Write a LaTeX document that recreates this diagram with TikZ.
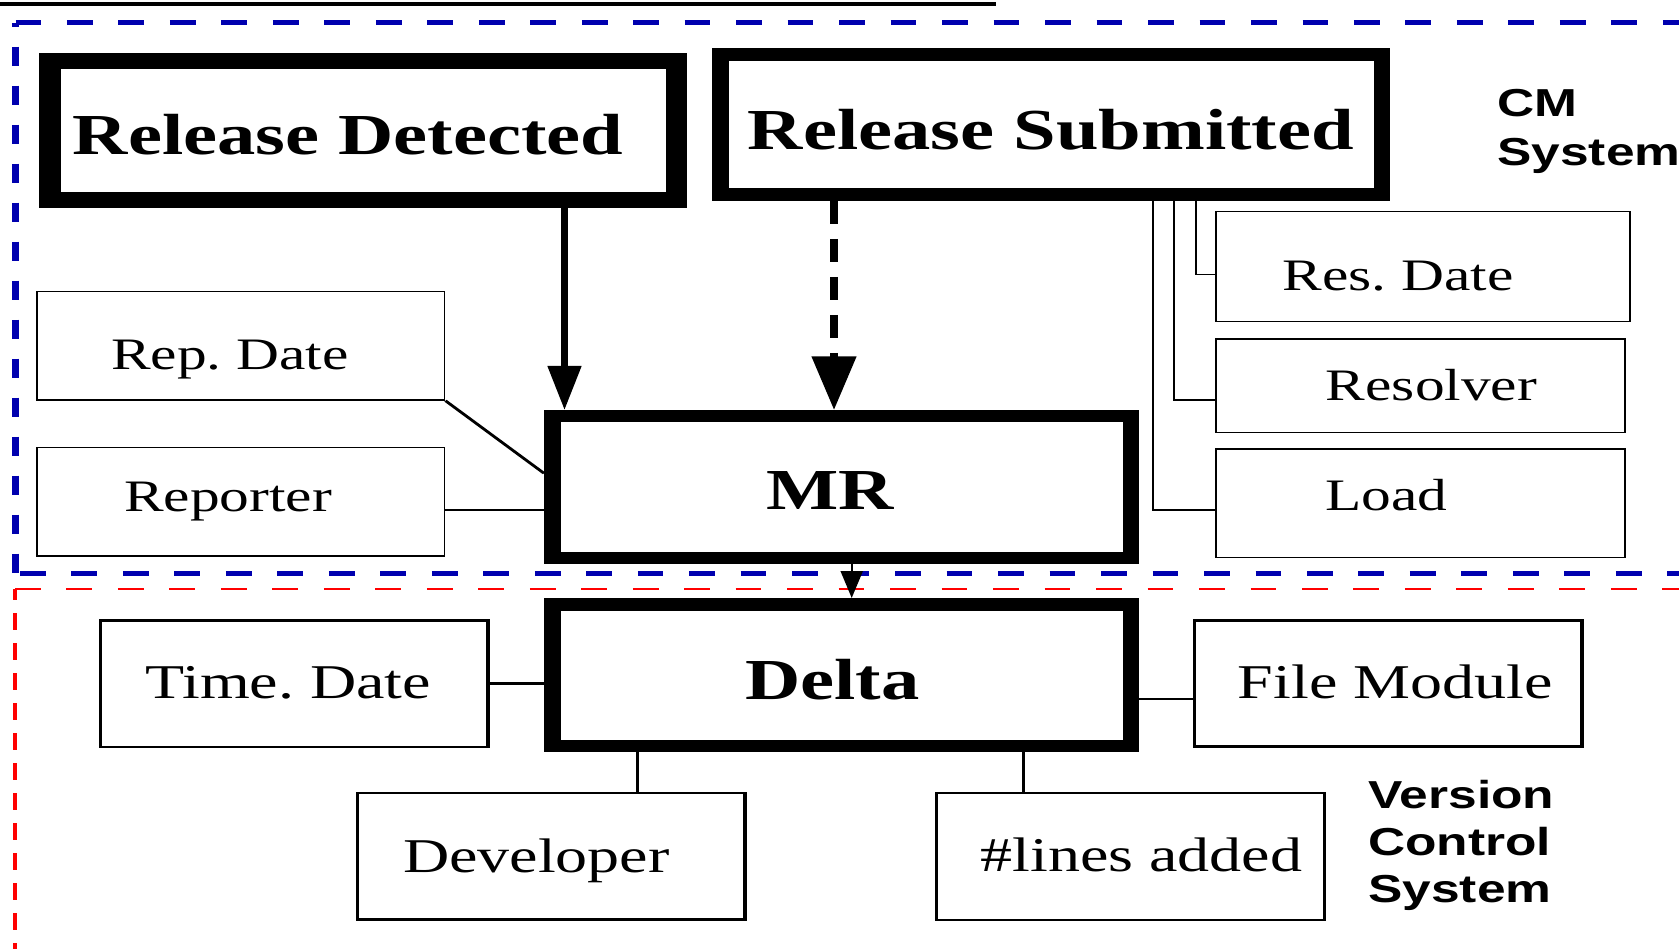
\documentclass[tikz,border=0pt]{standalone}
\usepackage{fontspec}
\setmainfont{Liberation Serif}
\setsansfont{Liberation Sans}
\usetikzlibrary{arrows.meta,fit}
\frenchspacing

% text inside a box: horizontal shift (#1) and baseline height (#2) relative to the box centre
\newcommand\boxlabel[3]{\raisebox{#2pt}[0pt][0pt]{\hspace*{#1pt}#3}}

\definecolor{cmblue}{RGB}{0,0,175}
\definecolor{vcred}{RGB}{255,0,0}

\tikzset{
  frame/.style={draw=black, fill=white, inner sep=0pt},
  heavybox/.style={frame, line width=16pt, font=\fontsize{58}{64}\selectfont\bfseries},
  mainbox/.style={frame, line width=12.5pt, font=\fontsize{58}{64}\selectfont\bfseries},
  attrbox/.style={frame, line width=1.5pt, font=\fontsize{45}{50}\selectfont},
  vcbox/.style={frame, line width=2.5pt, font=\fontsize{48.5}{54}\selectfont},
  tag/.style={inner sep=0pt, anchor=base west, font=\fontsize{39}{44}\selectfont\sffamily\bfseries},
  cmframe/.style={draw=cmblue, line width=5pt, dash pattern=on 19.5pt off 19.5pt},
  vcframe/.style={draw=vcred, line width=2.5pt, dash pattern=on 19.5pt off 19.5pt},
  link/.style={line width=2.5pt},
  thinlink/.style={line width=1.5pt},
  lowlink/.style={line width=2.7pt},
}

\begin{document}
\begin{tikzpicture}[x=1pt,y=-1pt]
\useasboundingbox (0,0) rectangle (1679,949);
\begin{scope}[x=0.757576pt, transform canvas={xscale=1.32}]

% rule and system frames
\draw[line width=4.3pt] (0,4) -- (996,4);
\draw[cmframe] (15.5,23) -- (1720,23);
\draw[cmframe, dash phase=15.3pt] (15.5,23) -- (15.5,573);
\draw[cmframe, dash phase=35.6pt] (15.5,573) -- (1720,573);
\draw[vcframe] (15,589) -- (1720,589);
\draw[vcframe, dash pattern=on 17pt off 13pt, dash phase=6pt] (15,589) -- (15,960);

% CM system
\node[heavybox, fit={(50.05,61) (676.45,200)}] (rd) {\boxlabel{-23.1}{-24.5}{Release Detected}};
\node[mainbox, fit={(720.25,54.55) (1381.75,194.75)}] (rs) {\boxlabel{0}{-24.4}{Release Submitted}};
\node[mainbox, fit={(552.25,416.25) (1130.75,557.75)}] (mr) {\boxlabel{-17.4}{-22.5}{MR}};
\node[attrbox, fit={(37,291.5) (444.5,400)}] (repdate) {\boxlabel{-16.3}{-23.75}{Rep. Date}};
\node[attrbox, fit={(37,447.7) (444.5,556)}] (reporter) {\boxlabel{-19.3}{-9.15}{Reporter}};
\node[attrbox, fit={(1216,211.7) (1630,321.7)}] (resdate) {\boxlabel{-37.9}{-23.8}{Res. Date}};
\node[attrbox, fit={(1216,339) (1625,432.7)}] (resolver) {\boxlabel{16.7}{-14.6}{Resolver}};
\node[attrbox, fit={(1216,449) (1625,557.5)}] (load) {\boxlabel{-51.5}{-7.25}{Load}};
\node[tag] (cmA) at (1497,117) {CM};
\node[tag] (cmB) at (1497,166) {System};

% version control system
\node[mainbox, fit={(552.25,604.25) (1130.75,745.75)}] (delta) {\boxlabel{-14.1}{-24}{Delta}};
\node[vcbox, fit={(100.5,620.3) (488,747)}] (timedate) {\boxlabel{-9.1}{-14.65}{Time. Date}};
\node[vcbox, fit={(357.6,793) (745,919.7)}] (developer) {\boxlabel{-22.7}{-15.65}{Developer}};
\node[vcbox, fit={(1194.6,620.3) (1582,746.7)}] (filemodule) {\boxlabel{10.6}{-14.8}{File Module}};
\node[vcbox, fit={(936.3,793) (1324.2,920)}] (lines) {\boxlabel{17}{-15.2}{\#lines added}};
\node[tag] (vcA) at (1368,808) {Version};
\node[tag] (vcB) at (1368,855) {Control};
\node[tag] (vcC) at (1368,902) {System};

% connector positions (anchors already lie on the outer edge of each border)
\coordinate (xa) at (564.5,0);
\coordinate (xb) at (834,0);
\coordinate (xc) at (851.7,0);
\coordinate (xd) at (637.7,0);
\coordinate (xe) at (1023.5,0);
\coordinate (ea) at (1195.6,0);
\coordinate (eb) at (1174.4,0);
\coordinate (ec) at (1152.5,0);
\coordinate (mrside) at ([yshift=-23pt]mr.west);
\coordinate (fmside) at ([yshift=-15.5pt]filemodule.west);

% arrows
\draw[line width=4.8pt, -{Triangle[length=44pt,width=24.6pt]}] (rd.south -| xa) -- (mr.north -| xa);
\draw[line width=5.5pt, dash pattern=on 23pt off 15pt, -{Triangle[length=53.5pt,width=32.6pt]}] (rs.south -| xb) -- (mr.north -| xb);
\draw[line width=1.5pt, -{Triangle[length=27pt,width=16.7pt]}] (mr.south -| xc) -- (delta.north -| xc);

% attribute links
\draw[link] (repdate.south east) -- ([yshift=13.7pt]mr.west);
\draw[link] (mrside -| reporter.east) -- (mrside);
\draw[thinlink] (rs.south -| ea) |- ([yshift=-7.6pt]resdate.west);
\draw[thinlink] (rs.south -| eb) |- ([yshift=-14.1pt]resolver.west);
\draw[thinlink] (rs.south -| ec) |- ([yshift=-6.75pt]load.west);
\draw[lowlink] (timedate.east) -- (timedate.east -| delta.west);
\draw[lowlink] (fmside -| delta.east) -- (fmside);
\draw[lowlink] (delta.south -| xd) -- (developer.north -| xd);
\draw[lowlink] (delta.south -| xe) -- (lines.north -| xe);

\end{scope}
\end{tikzpicture}
\end{document}
